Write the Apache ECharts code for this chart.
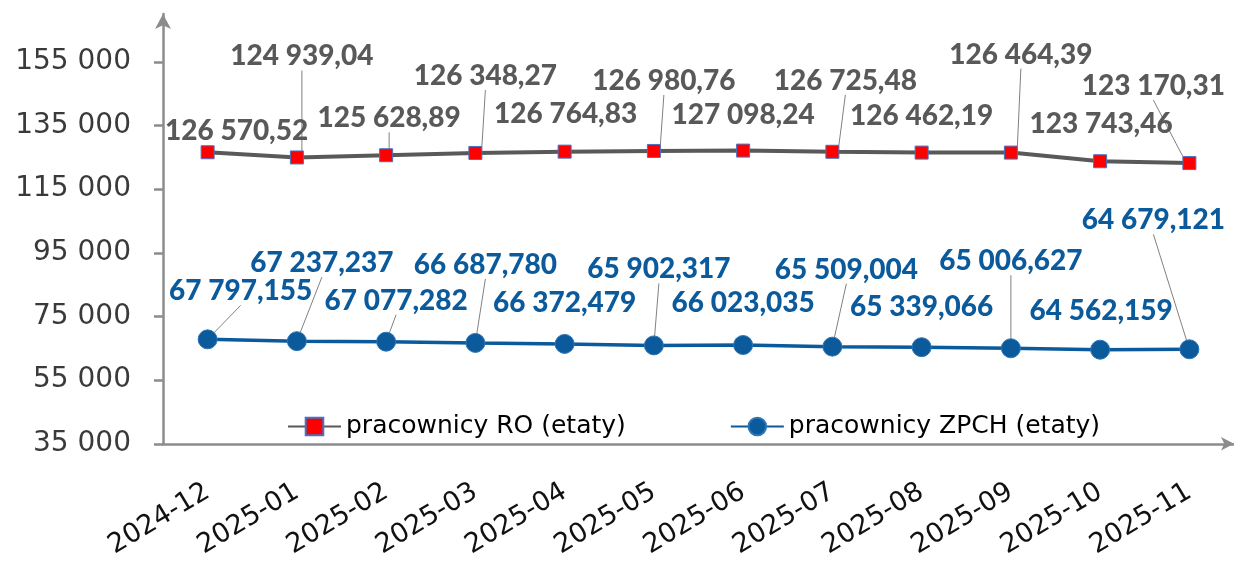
<!DOCTYPE html>
<html>
<head>
    <meta charset="UTF-8">
    <title>pracownicy RO / ZPCH</title>
    <script src="https://cdn.jsdelivr.net/npm/echarts@6/dist/echarts.min.js"></script>
    <style>
        html, body { margin: 0; padding: 0; background: #fff; }
        #chart { width: 1234px; height: 561px; }
    </style>
</head>
<body>
<div id="chart"></div>
<script type="text/javascript">
    // dane
    var months = ['2024-12', '2025-01', '2025-02', '2025-03', '2025-04', '2025-05',
        '2025-06', '2025-07', '2025-08', '2025-09', '2025-10', '2025-11'];
    var roValues = [126570.52, 124939.04, 125628.89, 126348.27, 126764.83, 126980.76,
        127098.24, 126725.48, 126462.19, 126464.39, 123743.46, 123170.31];
    var zpchValues = [67797.155, 67237.237, 67077.282, 66687.780, 66372.479, 65902.317,
        66023.035, 65509.004, 65339.066, 65006.627, 64562.159, 64679.121];
    var yTicks = [35000, 55000, 75000, 95000, 115000, 135000, 155000];

    // przesunięcia etykiet (px) i linie odniesienia
    var roDx = [29, 5, 3, 10, 1, 10, 0, 13, 0, 10, 1, -36];
    var roDy = [-21, -101, -37, -77, -38, -70, -36, -71, -37, -98, -37, -77];
    var roLine = [false, true, true, true, false, true, false, true, false, true, false, true];
    var zpDx = [33, 25, 10, 10, 0, 5, 0, 14, 0, 0, 1, -36];
    var zpDy = [-48, -78, -41, -78, -41, -76, -42, -77, -40, -87, -39, -129];
    var zpLine = [true, true, true, true, false, true, false, true, false, true, false, true];

    // 126 570,52
    function plNum(v, dec) {
        var parts = v.toFixed(dec).split('.');
        var s = parts[0].replace(/\B(?=(\d{3})+(?!\d))/g, ' ');
        return dec > 0 ? s + ',' + parts[1] : s;
    }

    var myChart = echarts.init(document.getElementById('chart'));

    var axisGrey = '#8c8c8c';

    var option = {
        animation: false,
        grid: {
            left: 163,
            right: 0,
            top: 14,
            bottom: 115
        },
        legend: {
            left: 282,
            top: 409,
            itemWidth: 53,
            itemHeight: 22,
            itemGap: 104,
            textStyle: {
                fontFamily: 'DejaVu Sans',
                fontSize: 25,
                color: '#000'
            },
            data: ['pracownicy RO (etaty)', 'pracownicy ZPCH (etaty)']
        },
        xAxis: {
            type: 'category',
            boundaryGap: true,
            data: months,
            axisLine: {
                show: true,
                symbol: ['none', 'arrow'],
                symbolSize: [10, 13],
                lineStyle: { color: axisGrey, width: 2.5 }
            },
            axisTick: { show: false },
            axisLabel: {
                interval: 0,
                rotate: 31,
                margin: 46,
                fontFamily: 'DejaVu Sans',
                fontSize: 27,
                color: '#111'
            }
        },
        yAxis: {
            type: 'value',
            min: 35000,
            max: 170000,
            interval: 20000,
            splitLine: { show: false },
            axisLine: {
                show: true,
                symbol: ['none', 'arrow'],
                symbolSize: [12, 15],
                lineStyle: { color: axisGrey, width: 2.5 }
            },
            axisTick: {
                show: true,
                length: 9,
                customValues: yTicks,
                lineStyle: { color: axisGrey, width: 2.5 }
            },
            axisLabel: {
                customValues: yTicks,
                margin: 32,
                fontFamily: 'DejaVu Sans',
                fontSize: 28,
                color: '#3a3a3a',
                formatter: function (v) { return plNum(v, 0); }
            }
        },
        series: [{
            name: 'pracownicy RO (etaty)',
            type: 'line',
            data: roValues.map(function (v, i) {
                return { value: v, labelLine: { show: roLine[i] } };
            }),
            symbol: 'rect',
            symbolSize: 13,
            lineStyle: { color: '#595959', width: 4 },
            itemStyle: { color: '#ff0000', borderColor: '#4472c4', borderWidth: 1 },
            label: {
                show: true,
                position: 'inside',
                fontFamily: 'Lato',
                fontWeight: 900,
                fontSize: 28,
                color: '#595959',
                formatter: function (p) { return plNum(p.value, 2); }
            },
            labelLine: {
                show: true,
                lineStyle: { color: '#808080', width: 1 }
            },
            labelLayout: function (p) {
                return { dx: roDx[p.dataIndex], dy: roDy[p.dataIndex] };
            }
        }, {
            name: 'pracownicy ZPCH (etaty)',
            type: 'line',
            data: zpchValues.map(function (v, i) {
                return { value: v, labelLine: { show: zpLine[i] } };
            }),
            symbol: 'circle',
            symbolSize: 19,
            lineStyle: { color: '#0b5a9c', width: 3.5 },
            itemStyle: { color: '#0b5a9c', borderColor: '#2e75b6', borderWidth: 1 },
            label: {
                show: true,
                position: 'inside',
                fontFamily: 'Lato',
                fontWeight: 900,
                fontSize: 28,
                color: '#0b5a9c',
                formatter: function (p) { return plNum(p.value, 3); }
            },
            labelLine: {
                show: true,
                lineStyle: { color: '#808080', width: 1 }
            },
            labelLayout: function (p) {
                return { dx: zpDx[p.dataIndex], dy: zpDy[p.dataIndex] };
            }
        }]
    };
    myChart.setOption(option);
</script>
</body>
</html>
